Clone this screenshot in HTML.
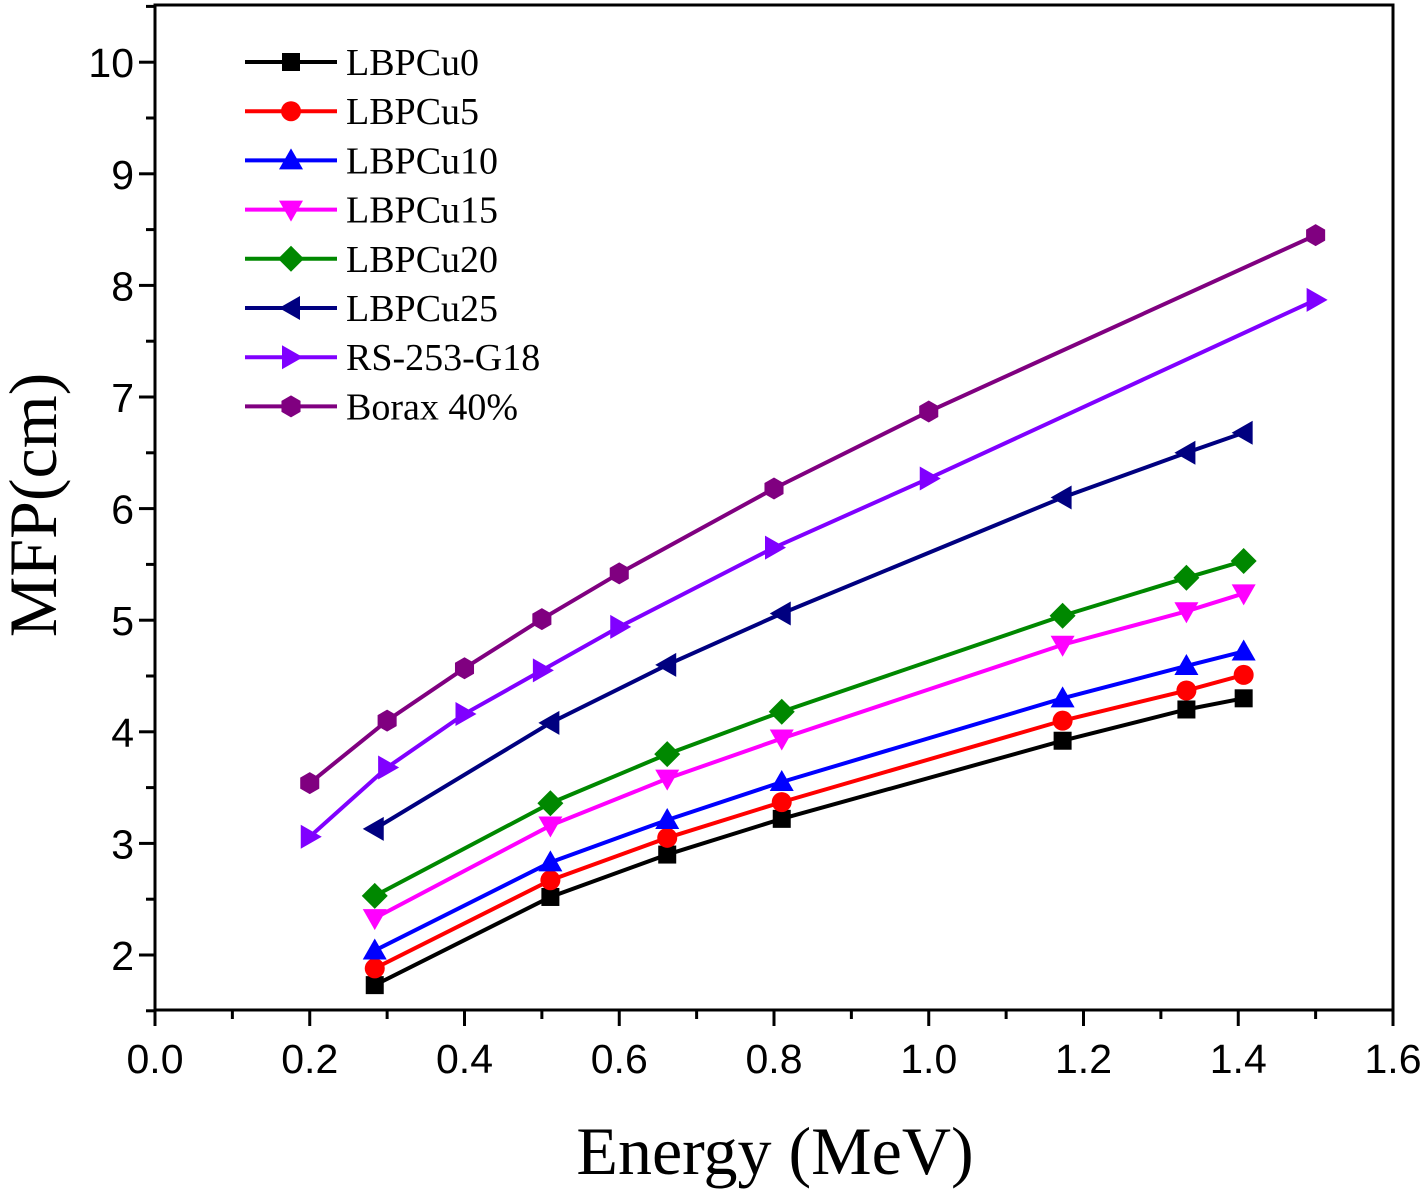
<!DOCTYPE html>
<html><head><meta charset="utf-8"><style>
body{margin:0;background:#fff}
svg{display:block}
.tk{font-family:"Liberation Sans",Arial,sans-serif;font-size:41px;fill:#000}
.lg{font-family:"Liberation Serif",serif;font-size:38px;fill:#000}
.ti{font-family:"Liberation Serif",serif;font-size:68px;fill:#000}
</style></head><body>
<svg id="chart" width="1425" height="1190" xmlns="http://www.w3.org/2000/svg">
<rect x="155" y="5" width="1238" height="1005" fill="none" stroke="#000" stroke-width="3"/>
<g id="axes"></g><g id="series"></g><g id="legend"></g>
<text class="ti" x="775" y="1174" text-anchor="middle">Energy (MeV)</text>
<text class="ti" transform="translate(56,505) rotate(-90)" text-anchor="middle">MFP(cm)</text>
</svg>
<script>
const xTicks=[0.0,0.2,0.4,0.6,0.8,1.0,1.2,1.4,1.6];
const yTicks=[2,3,4,5,6,7,8,9,10];
const xGlass=[0.284,0.511,0.662,0.81,1.173,1.333,1.407];
const xRef=[0.2,0.3,0.4,0.5,0.6,0.8,1.0,1.5];
const names=["LBPCu0","LBPCu5","LBPCu10","LBPCu15","LBPCu20","LBPCu25","RS-253-G18","Borax 40%"];
const cu0=[1.73,2.52,2.90,3.22,3.92,4.20,4.30];
const cu5=[1.88,2.67,3.05,3.37,4.10,4.37,4.51];
const cu10=[2.04,2.83,3.21,3.55,4.30,4.59,4.72];
const cu15=[2.33,3.16,3.58,3.94,4.78,5.08,5.24];
const cu20=[2.53,3.36,3.80,4.18,5.04,5.38,5.53];
const cu25=[3.13,4.08,4.60,5.06,6.10,6.50,6.68];
const rs=[3.06,3.68,4.16,4.55,4.94,5.65,6.27,7.87];
const borax=[3.54,4.10,4.57,5.01,5.42,6.18,6.87,8.45];
const NS="http://www.w3.org/2000/svg";
const X=v=>155+v*773.75, Y=v=>955-(v-2)*111.6;
function mk(tag,at,par){const e=document.createElementNS(NS,tag);for(const k in at)e.setAttribute(k,at[k]);par.appendChild(e);return e;}
const ax=document.getElementById('axes');
for(let i=0;i<=16;i++){const v=i*0.1;const maj=i%2===0;
 const t=mk('line',{x1:X(v),x2:X(v),y1:1010,y2:1010+(maj?16:9),stroke:'#000','stroke-width':3},ax);
 
 }
xTicks.forEach(v=>{const t=mk('text',{x:X(v),y:1073,'text-anchor':'middle',class:'tk'},ax);t.textContent=v.toFixed(1);
 
 });
for(let v=1.5;v<=10.5;v+=0.5){const maj=Math.abs(v-Math.round(v))<1e-6&&v>=2;
 const t=mk('line',{x1:155,x2:155-(maj?16:9),y1:Y(v),y2:Y(v),stroke:'#000','stroke-width':3},ax);
 
 }
yTicks.forEach(v=>{const t=mk('text',{x:134,y:Y(v)+15,'text-anchor':'end',class:'tk'},ax);t.textContent=v;
 
 });
const colors=["#000","#f00","#00f","#f0f","#080","#000080","#8000ff","#800080"];
const shapes=["sq","ci","tu","td","di","tl","tr","hx"];
function marker(g,s,cx,cy,c){const r=10;let e;
 if(s==="sq")e=mk('rect',{x:cx-9,y:cy-9,width:18,height:18,fill:c},g);
 else if(s==="ci")e=mk('circle',{cx,cy,r:r,fill:c},g);
 else{let p;
  if(s==="tu")p=[[cx,cy-12],[cx+12,cy+9],[cx-12,cy+9]];
  if(s==="td")p=[[cx,cy+12],[cx+12,cy-9],[cx-12,cy-9]];
  if(s==="tl")p=[[cx-12,cy],[cx+9,cy-12],[cx+9,cy+12]];
  if(s==="tr")p=[[cx+12,cy],[cx-9,cy-12],[cx-9,cy+12]];
  if(s==="di")p=[[cx,cy-13],[cx+13,cy],[cx,cy+13],[cx-13,cy]];
  if(s==="hx")p=[0,1,2,3,4,5].map(i=>[cx+11*Math.cos(Math.PI/6+i*Math.PI/3),cy+11*Math.sin(Math.PI/6+i*Math.PI/3)]);
  e=mk('polygon',{points:p.map(q=>q.join(',')).join(' '),fill:c},g);}
 return e;}
const sg=document.getElementById('series');
const allY=[cu0,cu5,cu10,cu15,cu20,cu25,rs,borax];
allY.forEach((ys,i)=>{const xs=i<6?xGlass:xRef;
 const g=mk('g',{},sg);
 
 
 mk('polyline',{points:xs.map((x,j)=>X(x)+','+Y(ys[j])).join(' '),fill:'none',stroke:colors[i],'stroke-width':4},g);
 xs.forEach((x,j)=>{const m=marker(g,shapes[i],X(x),Y(ys[j]),colors[i]);
  
  });
});
const lg=document.getElementById('legend');
names.forEach((n,i)=>{const y=62+i*49.2;const g=mk('g',{},lg);
 
 
 mk('line',{x1:245,x2:337,y1:y,y2:y,stroke:colors[i],'stroke-width':4},g);
 marker(g,shapes[i],291,y,colors[i]);
 const t=mk('text',{x:346,y:y+13,class:'lg'},g);t.textContent=n;});
</script>
</body></html>
